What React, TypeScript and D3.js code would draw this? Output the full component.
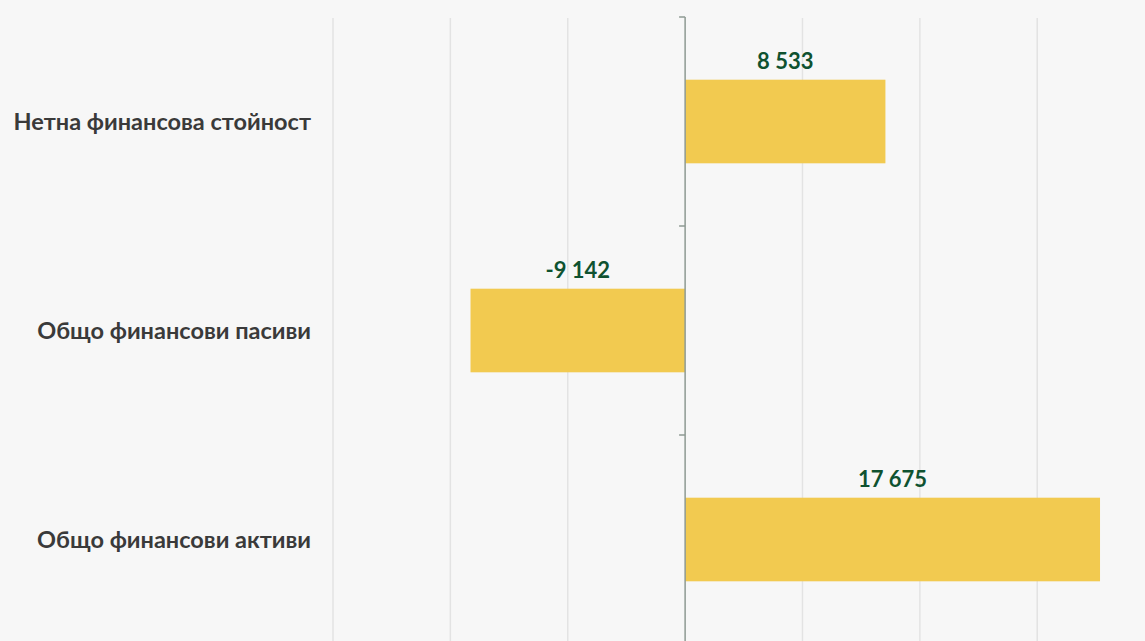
import { useEffect, useRef } from "react"
import * as d3 from "d3"

const categories = ["Нетна финансова стойност", "Общо финансови пасиви", "Общо финансови активи"]
const values = [8533, -9142, 17675]
const gridTicks = [-15000, -10000, -5000, 0, 5000, 10000, 15000, 20000]

const W = 1145
const H = 641

const fmt = (v: number) => {
  const s = Math.abs(v).toString().replace(/\B(?=(\d{3})+(?!\d))/g, " ")
  return (v < 0 ? "-" : "") + s
}

export default function App() {
  const svgRef = useRef<SVGSVGElement>(null)

  useEffect(() => {
    if (!svgRef.current) return
    document.body.style.margin = "0"

    const svg = d3.select(svgRef.current)
    svg.selectAll("*").remove()

    svg.append("rect").attr("width", W).attr("height", H).attr("fill", "#f7f7f7")

    const x = d3.scaleLinear().domain([-15000, 20000]).range([333, 1154.6])
    const y = d3.scaleBand<string>().domain(categories).range([17, 644]).padding(0)
    const barH = y.bandwidth() * 0.4

    // grid
    svg
      .append("g")
      .selectAll("line")
      .data(gridTicks.filter((t) => t !== 0))
      .enter()
      .append("line")
      .attr("x1", (d) => x(d))
      .attr("x2", (d) => x(d))
      .attr("y1", 18)
      .attr("y2", H)
      .attr("stroke", "#e3e3e3")
      .attr("stroke-width", 1.5)

    // bars
    svg
      .append("g")
      .selectAll("rect")
      .data(values)
      .enter()
      .append("rect")
      .attr("x", (d) => x(Math.min(0, d)))
      .attr("width", (d) => Math.abs(x(d) - x(0)))
      .attr("y", (_, i) => y(categories[i])! + (y.bandwidth() - barH) / 2)
      .attr("height", barH)
      .attr("fill", "#f2ca50")

    // zero axis
    const axisColor = "#8e9a93"
    svg
      .append("line")
      .attr("x1", x(0))
      .attr("x2", x(0))
      .attr("y1", 17)
      .attr("y2", H)
      .attr("stroke", axisColor)
      .attr("stroke-width", 1.5)

    const boundaries = categories.map((c) => y(c)!)
    svg
      .append("g")
      .selectAll("line")
      .data(boundaries)
      .enter()
      .append("line")
      .attr("x1", x(0) - 6)
      .attr("x2", x(0))
      .attr("y1", (d) => d)
      .attr("y2", (d) => d)
      .attr("stroke", axisColor)
      .attr("stroke-width", 1.5)

    // category labels
    svg
      .append("g")
      .selectAll("text")
      .data(categories)
      .enter()
      .append("text")
      .attr("x", 311)
      .attr("y", (d) => y(d)! + y.bandwidth() / 2)
      .attr("dy", "0.35em")
      .attr("text-anchor", "end")
      .attr("fill", "#3a3a3a")
      .attr("font-family", "Lato, 'Noto Sans', sans-serif")
      .attr("font-weight", 700)
      .attr("font-size", "23.5px")
      .text((d) => d)

    // value labels
    svg
      .append("g")
      .selectAll("text")
      .data(values)
      .enter()
      .append("text")
      .attr("x", (d) => (x(0) + x(d)) / 2)
      .attr("y", (_, i) => y(categories[i])! + (y.bandwidth() - barH) / 2 - 11)
      .attr("text-anchor", "middle")
      .attr("fill", "#0f5230")
      .attr("font-family", "Lato, 'Noto Sans', sans-serif")
      .attr("font-weight", 700)
      .attr("font-size", "22px")
      .text((d) => fmt(d))
  }, [])

  return <svg ref={svgRef} width={W} height={H} style={{ display: "block" }} />
}
